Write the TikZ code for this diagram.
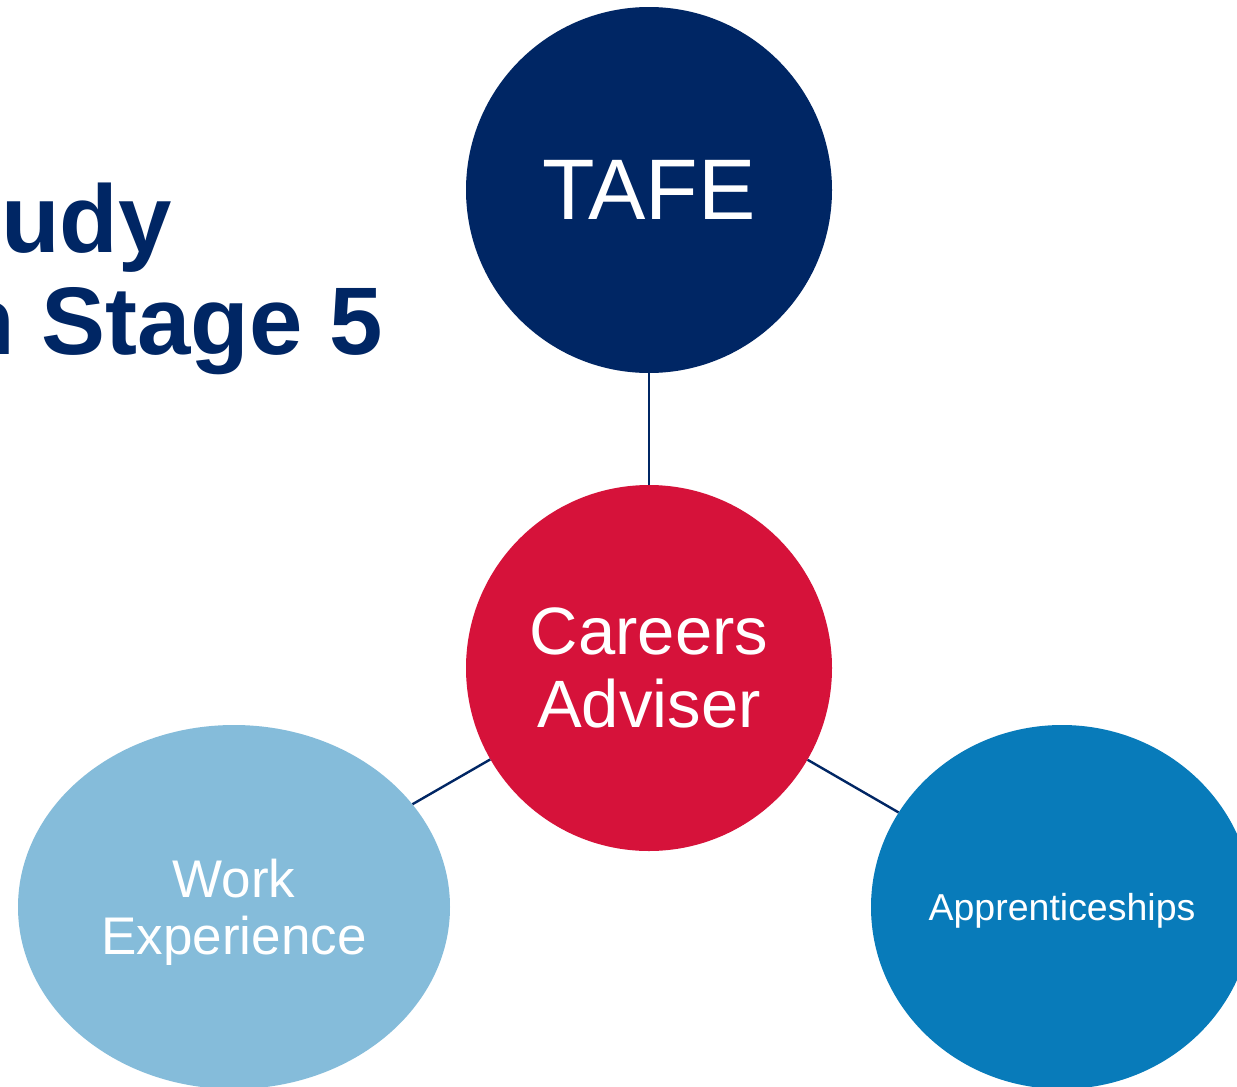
\documentclass[tikz,border=0pt]{standalone}
\usepackage{fontspec}
\setmainfont{Liberation Sans}
\usetikzlibrary{shapes.geometric}
\definecolor{navy}{HTML}{002664}
\definecolor{nswred}{HTML}{D6123A}
\definecolor{lightblue}{HTML}{85BCDA}
\definecolor{midblue}{HTML}{087BBA}
\tikzset{
  bubble/.style={circle, fill=#1, text=white, inner sep=0pt, minimum size=366pt, align=center},
  oval/.style={ellipse, fill=#1, text=white, inner sep=0pt, align=center},
  link/.style={draw=navy, line width=2.4pt},
  titletext/.style={text=navy, inner sep=0pt, font=\bfseries\fontsize{96}{102}\selectfont}
}
\begin{document}
\begin{tikzpicture}[x=1pt,y=-1pt]
\useasboundingbox[fill=white] (0,0) rectangle (1237,1087);
\node[titletext, anchor=base east] (t1) at (172,252) {udy};
\node[titletext, anchor=base east] (t2) at (383,354) {n Stage 5};
\node[bubble=navy, font=\fontsize{86}{90}\selectfont] (tafe) at (649,190) {TAFE};
\node[bubble=nswred, font=\fontsize{67}{73}\selectfont] (ca) at (649,668) {Careers\\Adviser};
\node[oval=lightblue, minimum width=432pt, minimum height=364pt, text depth=0pt, font=\fontsize{53}{57}\selectfont] (we) at (234,907) {Work\\Experience};
\node[oval=midblue, minimum width=382pt, minimum height=364pt, text depth=0pt, font=\fontsize{37.5}{42}\selectfont] (ap) at (1062,907) {Apprenticeships};
\draw[link] (tafe) -- (ca);
\draw[link] (ca) -- (we);
\draw[link] (ca) -- (ap);
\end{tikzpicture}
\end{document}
